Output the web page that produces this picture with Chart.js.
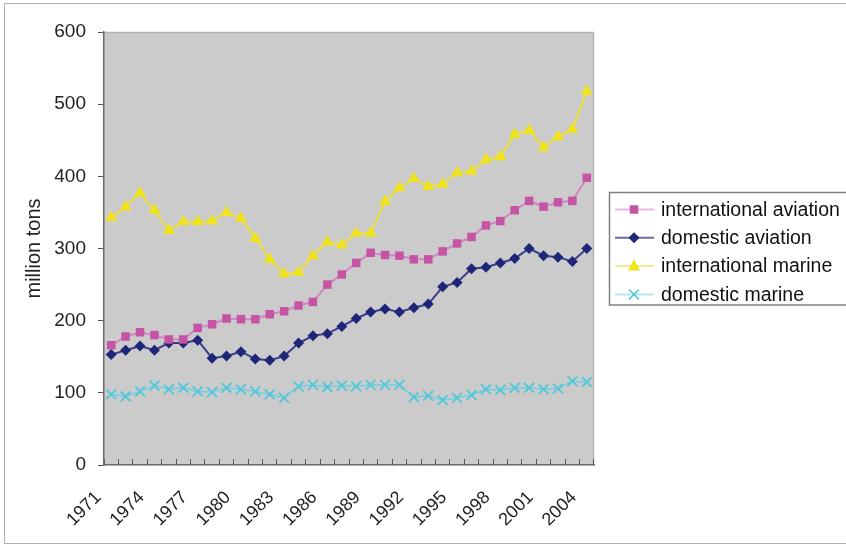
<!DOCTYPE html>
<html>
<head>
<meta charset="utf-8">
<script src="https://cdn.jsdelivr.net/npm/chart.js@4.4.0/dist/chart.umd.min.js"></script>
<style>
  html, body { margin: 0; padding: 0; background: #fff; }
  #wrap { width: 846px; height: 546px; }
</style>
</head>
<body>
<div id="wrap"><canvas id="diagram" width="846" height="546"></canvas></div>
<script>
const years = ['1971','1972','1973','1974','1975','1976','1977','1978','1979','1980',
  '1981','1982','1983','1984','1985','1986','1987','1988','1989','1990',
  '1991','1992','1993','1994','1995','1996','1997','1998','1999','2000',
  '2001','2002','2003','2004'];
const shownYears = ['1971','1974','1977','1980','1983','1986','1989','1992','1995','1998','2001','2004'];

const intlAviation = [166,178,184,180,174,174,190,195,203,202,202,209,213,221,226,250,264,280,294,291,
  290,285,285,296,307,316,332,338,353,366,358,364,366,398];
const domAviation = [153,159,165,159,169,169,173,148,151,157,147,145,151,169,179,182,192,203,212,216,
  212,218,223,247,253,272,274,280,286,300,290,288,282,300];
const intlMarine = [343,358,377,353,325,337,337,338,350,342,314,285,265,267,290,309,305,321,321,365,
  384,397,386,389,405,407,423,427,458,464,440,455,465,518];
const domMarine = [98,95,102,110,105,107,102,101,107,105,102,98,93,109,111,108,110,109,111,111,
  111,94,96,90,93,97,105,104,107,107,105,106,116,115];

const seriesNames = ['international aviation','domestic aviation','international marine','domestic marine'];
const yMin = 0, yMax = 600, yStep = 100;

const ctx = document.getElementById('diagram');

// plot background, frame, top/right edge and the boxed legend
const decor = {
  id: 'decor',
  beforeDraw(chart){
    const c = chart.ctx, a = chart.chartArea;
    c.save();
    c.fillStyle = '#cbcbcb';
    c.fillRect(a.left, a.top, a.right - a.left, a.bottom - a.top);
    c.strokeStyle = '#b4b4b4';
    c.lineWidth = 1.5;
    c.beginPath();
    c.moveTo(a.left, a.top + 0.5);
    c.lineTo(a.right - 0.5, a.top + 0.5);
    c.lineTo(a.right - 0.5, a.bottom);
    c.stroke();
    c.restore();
  },
  afterDraw(chart){
    const c = chart.ctx;
    c.save();
    c.strokeStyle = '#b0b0b0';
    c.lineWidth = 1;
    c.strokeRect(4.5, 3.5, 900, 540);

    c.strokeStyle = '#808080';
    c.lineWidth = 1.5;
    c.strokeRect(609.5, 192.5, 300, 112.5);

    chart.data.datasets.forEach((ds, i) => {
      const y = 209.5 + i * 28.3;
      c.strokeStyle = ds.legendLine;
      c.lineWidth = 2;
      c.beginPath();
      c.moveTo(615, y);
      c.lineTo(654, y);
      c.stroke();
      drawMarker(c, ds.pointStyle, 634, y, ds.pointRadius, ds.pointBackgroundColor, ds.pointBorderColor);
      c.fillStyle = '#111';
      c.font = '19.5px "Liberation Sans", Arial, sans-serif';
      c.textBaseline = 'middle';
      c.textAlign = 'left';
      c.fillText(ds.label, 661, y + 1);
    });
    c.restore();
  }
};

function drawMarker(c, style, x, y, r, fill, stroke){
  c.save();
  c.fillStyle = fill;
  c.strokeStyle = stroke;
  c.lineWidth = 1;
  c.beginPath();
  if (style === 'rect') {
    const s = r * Math.SQRT1_2;
    c.rect(x - s, y - s, 2 * s, 2 * s);
    c.fill();
  } else if (style === 'rectRot') {
    c.moveTo(x, y - r); c.lineTo(x + r, y); c.lineTo(x, y + r); c.lineTo(x - r, y);
    c.closePath(); c.fill();
  } else if (style === 'triangle') {
    c.moveTo(x, y - r); c.lineTo(x + r * 0.866, y + r * 0.5 + 1); c.lineTo(x - r * 0.866, y + r * 0.5 + 1);
    c.closePath(); c.fill();
  } else {
    const s = r * Math.SQRT1_2;
    c.lineWidth = 1.5;
    c.moveTo(x - s, y - s); c.lineTo(x + s, y + s);
    c.moveTo(x + s, y - s); c.lineTo(x - s, y + s);
    c.stroke();
  }
  c.restore();
}

new Chart(ctx, {
  type: 'line',
  data: {
    labels: years,
    datasets: [{
      label: seriesNames[0],
      data: intlAviation,
      borderColor: '#d384c3',
      legendLine: '#eab8e0',
      borderWidth: 2,
      pointStyle: 'rect',
      pointRadius: 6,
      pointBackgroundColor: '#c654a4',
      pointBorderColor: '#c654a4',
      pointBorderWidth: 0
    }, {
      label: seriesNames[1],
      data: domAviation,
      borderColor: '#3a3c8c',
      legendLine: '#6a68b0',
      borderWidth: 2,
      pointStyle: 'rectRot',
      pointRadius: 5.5,
      pointBackgroundColor: '#1e2678',
      pointBorderColor: '#1e2678',
      pointBorderWidth: 0
    }, {
      label: seriesNames[2],
      data: intlMarine,
      borderColor: '#eee23a',
      legendLine: '#f2ec90',
      borderWidth: 2,
      pointStyle: 'triangle',
      pointRadius: 7,
      pointBackgroundColor: '#f2e41c',
      pointBorderColor: '#f2e41c',
      pointBorderWidth: 0
    }, {
      label: seriesNames[3],
      data: domMarine,
      borderColor: '#6fd0e0',
      legendLine: '#b4e8f0',
      borderWidth: 1.5,
      pointStyle: 'crossRot',
      pointRadius: 7,
      pointBackgroundColor: '#52c6da',
      pointBorderColor: '#52c6da',
      pointBorderWidth: 1.8
    }]
  },
  options: {
    responsive: false,
    animation: false,
    devicePixelRatio: 1,
    layout: {
      autoPadding: false,
      padding: { left: 0, top: 32, right: 252, bottom: 0 }
    },
    elements: { line: { tension: 0 } },
    scales: {
      x: {
        type: 'category',
        offset: true,
        grid: {
          display: true,
          offset: true,
          drawOnChartArea: false,
          drawTicks: true,
          tickLength: -6,
          color: '#555',
          lineWidth: 1
        },
        border: { display: true, color: '#6a6a6a', width: 1.5 },
        ticks: {
          autoSkip: false,
          maxRotation: 45,
          minRotation: 45,
          padding: 28,
          labelOffset: -13,
          color: '#222',
          font: { family: '"Liberation Sans", Arial, sans-serif', size: 18 },
          callback: function (value) {
            const lab = this.getLabelForValue(value);
            return shownYears.includes(lab) ? lab : '';
          }
        },
        afterFit: function (scale) { scale.height = 81; }
      },
      y: {
        min: yMin,
        max: yMax,
        grid: {
          display: true,
          drawOnChartArea: false,
          drawTicks: true,
          tickLength: 6,
          color: '#555'
        },
        border: { display: true, color: '#6a6a6a', width: 1.5 },
        ticks: {
          stepSize: yStep,
          padding: 12,
          color: '#222',
          font: { family: '"Liberation Sans", Arial, sans-serif', size: 19 }
        },
        title: {
          display: true,
          text: 'million tons',
          color: '#222',
          padding: { top: 22, bottom: 0 },
          font: { family: '"Liberation Sans", Arial, sans-serif', size: 20 }
        },
        afterFit: function (scale) { scale.width = 104; }
      }
    },
    plugins: {
      legend: { display: false },
      tooltip: { enabled: false }
    }
  },
  plugins: [decor]
});
</script>
</body>
</html>
